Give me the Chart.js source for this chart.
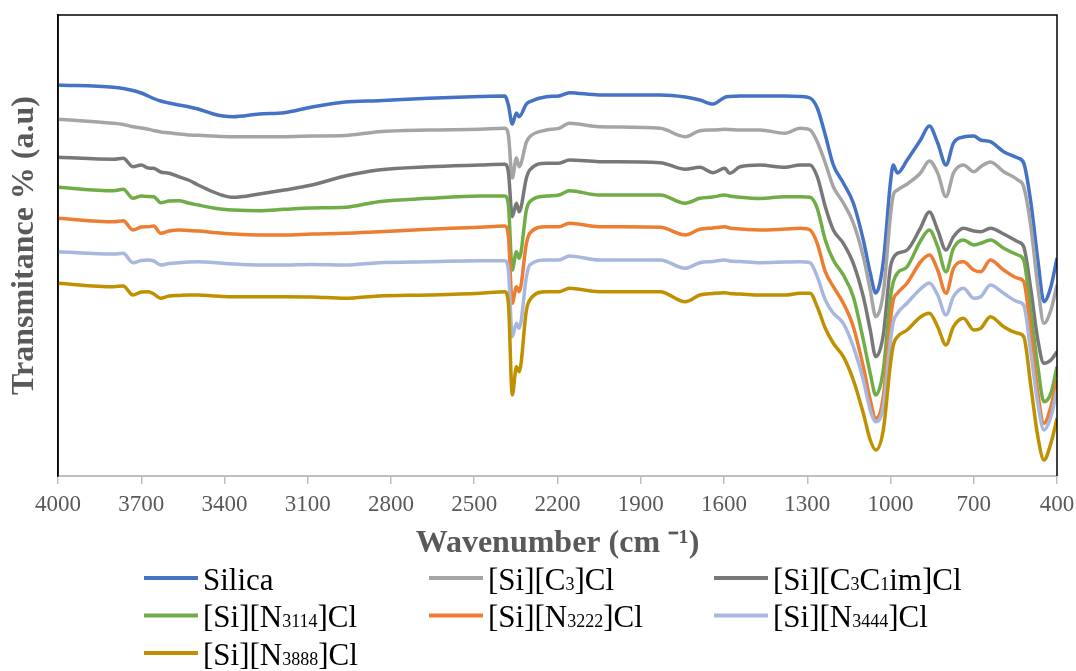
<!DOCTYPE html>
<html>
<head>
<meta charset="utf-8">
<script src="https://cdn.jsdelivr.net/npm/chart.js@4.4.0/dist/chart.umd.min.js"></script>
<style>
  body { margin: 0; background: #fff; }
</style>
</head>
<body>
<canvas id="ftir" width="1076" height="671"></canvas>
<script>
// wavenumber (cm-1)
const wavenumbers = [4000, 3800, 3765, 3730, 3700, 3675, 3655, 3630, 3600, 3565,
  3530, 3495, 3440, 3405, 3370, 3275, 3185, 3085, 2965, 2845,
  2665, 2480, 2390, 2377, 2363, 2348, 2338, 2312, 2300, 2240,
  2195, 2157, 2050, 1830, 1740, 1687, 1640, 1597, 1580, 1542,
  1470, 1380, 1326, 1290, 1264, 1235, 1206, 1170, 1134, 1098,
  1073, 1053, 1026, 1000, 990, 975, 940, 892, 860, 830,
  800, 773, 737, 700, 675, 640, 592, 541, 520, 494,
  469, 447, 422, 400];

// transmittance, arbitrary units (curves are offset like in the figure)
const silica = [391, 388.7, 387.5, 385.5, 383, 380, 377.5, 375, 373, 371,
  369.3, 367, 362, 360, 359.3, 362, 363.3, 369, 374, 375.3,
  377.7, 379.5, 380, 371, 352, 363, 359.3, 372, 374.3, 379.3,
  380, 383.3, 381, 381, 379, 376, 372, 378.7, 379.5, 380,
  380, 380, 379.5, 378, 368, 341, 311, 293, 273, 236,
  203, 183, 214, 294, 311, 303, 316, 336, 350, 333,
  311, 333, 339, 340, 336, 334.3, 324.3, 318, 313, 273,
  216, 174.3, 189.3, 218];
const siC3 = [356.7, 352.7, 351.5, 349.3, 348, 346.7, 345.5, 344, 343.3, 342,
  341, 340.7, 340, 339.5, 339.3, 339.3, 339.3, 340, 340.5, 344.3,
  346, 346.7, 347.7, 341, 298, 318, 309.3, 334, 339.3, 346,
  347.7, 352.7, 349.3, 347.7, 339.3, 345.3, 346, 346.7, 346.5, 346,
  346, 342.7, 347.7, 346, 334.3, 313, 289.3, 273, 253, 219.3,
  186, 159.3, 183, 261, 281, 286, 292, 303, 315, 303,
  279.3, 303, 311, 304.3, 309.3, 314, 304.3, 296, 289.3, 249.3,
  189.3, 152.7, 166, 191];
const siC3C1im = [318.7, 316.7, 317.7, 309.3, 311, 308, 307.7, 304, 302.7, 299.3,
  296, 291, 284, 280.5, 278.7, 282, 286, 291, 300, 306,
  309.3, 311, 311.7, 304, 259.3, 272.7, 264.3, 298, 306, 312.7,
  312.7, 316, 314.3, 313.3, 306.7, 308.7, 303.3, 307.7, 302.7, 309.3,
  311, 308.7, 311, 311, 299.3, 269.3, 246, 232.7, 212.7, 179.3,
  146, 119.3, 141, 209.3, 218, 222.7, 226, 248, 264, 246,
  226, 239.3, 247.7, 245, 244.3, 247.7, 242, 234.3, 229.3, 186,
  136, 112.7, 116, 124.3];
const siN3114 = [288.7, 285.3, 286.7, 277.7, 280, 279.5, 279.3, 273.3, 275, 275.3,
  273, 271, 268, 266.7, 266, 265.3, 266.7, 268, 268.7, 274.3,
  277.7, 280, 280, 271, 206, 224.3, 217.7, 266, 274.3, 280,
  281, 285.3, 281, 281, 272.7, 277.7, 279, 281, 280, 278.7,
  277.5, 279.3, 279.3, 278.7, 267.7, 236, 216, 201, 179.3, 136,
  102.7, 81, 106, 179.3, 194, 203, 209.3, 235, 246, 229.3,
  204.3, 227.7, 236, 231, 232.7, 236, 227.7, 221, 216, 162.7,
  109.3, 74.3, 82.7, 109.3];
const siN3222 = [257.7, 254.3, 255.3, 246, 249, 249.3, 250, 242.7, 245, 246,
  245.5, 245, 243.5, 242.7, 242, 241, 241, 242, 242.7, 244.3,
  246.7, 248.7, 250, 240, 172.7, 189.3, 184.3, 232.7, 242.7, 249.3,
  249.3, 252.7, 249.3, 248.7, 241, 246.7, 248, 249.3, 248, 247,
  246, 247, 247.7, 246, 232.7, 204.3, 189.3, 172.7, 149.3, 109.3,
  76, 57.7, 79.3, 156, 176, 182.7, 193, 214, 221, 206,
  182.7, 207.7, 214.3, 206, 204.3, 216, 206, 197.7, 194.3, 142.7,
  82.7, 52.7, 69.3, 96];
const siN3444 = [224.3, 222, 222.7, 213.3, 215.5, 216, 215, 211, 212.5, 213.3,
  214, 214.3, 213.5, 212.7, 212, 211, 211, 211.5, 211, 213.3,
  214.3, 215.3, 215.3, 206, 139.3, 152.7, 147.7, 199.3, 211, 216,
  216, 220, 216, 216, 207.7, 213.3, 214.5, 216, 215, 214.5,
  213.3, 214, 214.3, 213.3, 199.3, 176, 162.7, 152.7, 129.3, 96,
  66, 54.3, 69.3, 136, 154, 162.7, 173, 187, 193, 181,
  161, 179.3, 187.7, 177.7, 179.3, 191, 182.7, 174.3, 171, 122.7,
  72.7, 46, 59.3, 86];
const siN3888 = [192.7, 189.3, 190, 181, 184, 184.3, 182, 177.7, 180, 180.5,
  181, 181, 180, 179.5, 179.3, 179.3, 179.3, 179, 177.7, 180,
  181, 182.7, 184.3, 173, 81, 109.3, 104.3, 166, 176, 184.3,
  184.3, 187.7, 184.3, 184.3, 174.3, 181, 182.5, 183.3, 182.5, 182,
  181, 181, 182.7, 182.7, 169.3, 147.7, 132.7, 119.3, 96, 62.7,
  36, 26, 46, 112.7, 131, 139.3, 146, 159, 162.7, 149.3,
  131, 149.3, 157.7, 146, 147.7, 159.3, 149.3, 142.7, 139.3, 89.3,
  39.3, 16, 32.7, 57.7];

const seriesLabels = ['Silica', '[Si][C₃]Cl', '[Si][C₃C₁im]Cl',
  '[Si][N₃₁₁₄]Cl', '[Si][N₃₂₂₂]Cl', '[Si][N₃₄₄₄]Cl', '[Si][N₃₈₈₈]Cl'];
const seriesValues = [silica, siC3, siC3C1im, siN3114, siN3222, siN3444, siN3888];
const seriesColors = ['#4472c4', '#a5a5a5', '#787878', '#70ad47', '#ed7d31', '#a8b7de', '#bf9000'];
const xTicks = [4000, 3700, 3400, 3100, 2800, 2500, 2200, 1900, 1600, 1300, 1000, 700, 400];

const serif = 'Liberation Serif';

// box round the plot area (left, top, right in black like the original)
const frame = {
    id: 'frame',
    afterDraw(chart) {
        const { ctx, chartArea: a } = chart;
        ctx.save();
        ctx.strokeStyle = '#000';
        ctx.lineWidth = 1.5;
        ctx.beginPath();
        ctx.moveTo(a.left, a.bottom);
        ctx.lineTo(a.left, a.top);
        ctx.lineTo(a.right, a.top);
        ctx.lineTo(a.right, a.bottom);
        ctx.stroke();
        ctx.restore();
    }
};

// legend in 3 fixed columns, subscripts drawn smaller
const subDigits = '₀₁₂₃₄₅₆₇₈₉';
function drawLabel(ctx, text, x, y) {
    const runs = [];
    for (const ch of text) {
        const k = subDigits.indexOf(ch);
        const sub = k >= 0;
        const c = sub ? String(k) : ch;
        if (runs.length && runs[runs.length - 1].sub === sub) runs[runs.length - 1].t += c;
        else runs.push({ sub, t: c });
    }
    for (const r of runs) {
        ctx.font = (r.sub ? '18px ' : '31px ') + '"' + serif + '"';
        ctx.fillText(r.t, x, y);
        x += ctx.measureText(r.t).width;
    }
}
const columnLegend = {
    id: 'columnLegend',
    afterDraw(chart) {
        const ctx = chart.ctx;
        const colX = [144, 429, 714];
        const rowY = [578, 615.5, 653];
        ctx.save();
        chart.data.datasets.forEach((ds, i) => {
            const x = colX[i % 3], y = rowY[Math.floor(i / 3)];
            ctx.strokeStyle = ds.borderColor;
            ctx.lineWidth = 4;
            ctx.beginPath();
            ctx.moveTo(x, y);
            ctx.lineTo(x + 54, y);
            ctx.stroke();
            ctx.fillStyle = '#000';
            ctx.textBaseline = 'alphabetic';
            drawLabel(ctx, ds.label, x + 59, y + 11.5);
        });
        ctx.restore();
    }
};

const ctx = document.getElementById('ftir');

new Chart(ctx, {
    type: 'line',
    data: {
        datasets: seriesLabels.map((label, i) => ({
            label: label,
            data: wavenumbers.map((w, j) => ({ x: w, y: seriesValues[i][j] })),
            borderColor: seriesColors[i],
            backgroundColor: seriesColors[i],
            order: seriesLabels.length - i
        }))
    },
    options: {
        responsive: false,
        animation: false,
        layout: { padding: { top: 15, right: 19, bottom: 100, left: 0 } },
        elements: {
            point: { radius: 0 },
            line: { borderWidth: 3.5, cubicInterpolationMode: 'monotone' }
        },
        plugins: {
            legend: { display: false },
            tooltip: { enabled: false }
        },
        scales: {
            x: {
                type: 'linear',
                reverse: true,
                min: 400,
                max: 4000,
                afterBuildTicks: s => { s.ticks = xTicks.map(v => ({ value: v })); },
                afterFit: s => {
                    s.height = 95;
                    s.paddingLeft = 0;
                    s.paddingRight = 0;
                },
                ticks: {
                    color: '#595959',
                    font: { family: serif, size: 23 },
                    padding: 7,
                    maxRotation: 0,
                    autoSkip: false,
                    callback: v => String(v)
                },
                grid: { drawOnChartArea: false, color: '#bfbfbf', lineWidth: 1.5, tickLength: 8 },
                border: { color: '#bfbfbf', width: 2 },
                title: {
                    display: true,
                    text: 'Wavenumber (cm ⁻¹)',
                    color: '#595959',
                    font: { family: serif, size: 32, weight: 'bold' },
                    padding: { top: 0, bottom: 8 }
                }
            },
            y: {
                min: 0,
                max: 461,
                afterFit: s => { s.width = 58; },
                ticks: { display: false },
                grid: { display: false },
                border: { color: '#000', width: 1.5 },
                title: {
                    display: true,
                    text: 'Transmitance % (a.u)',
                    color: '#595959',
                    font: { family: serif, size: 32, weight: 'bold' },
                    padding: { top: 6, bottom: 0 }
                }
            }
        }
    },
    plugins: [frame, columnLegend]
});
</script>
</body>
</html>
